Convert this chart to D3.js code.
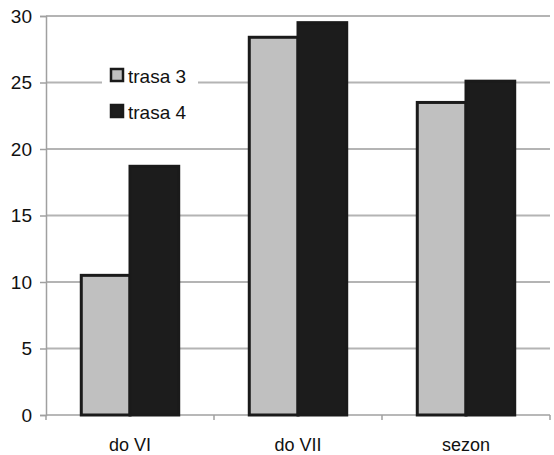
<!DOCTYPE html>
<html><head><meta charset="utf-8">
<script src="https://cdn.jsdelivr.net/npm/d3@7"></script>
<style>body{margin:0;background:#fff}</style>
</head><body>
<svg id="c" width="554" height="455"></svg>
<script>
const categories = ["do VI", "do VII", "sezon"];
const seriesNames = ["trasa 3", "trasa 4"];
const trasa3 = [10.5, 28.4, 23.5];
const trasa4 = [18.7, 29.5, 25.1];
const yTicks = [0, 5, 10, 15, 20, 25, 30];
const colors = ["#c0c0c0", "#1c1c1c"];

const svg = d3.select("#c");
const L = 46, R = 550, T = 16, B = 415;
const x = d3.scaleBand().domain(categories).range([L, R]).paddingInner(0.42).paddingOuter(0.21);
const y = d3.scaleLinear().domain([0, 30]).range([B, T]);
const font = "Liberation Sans, Arial, sans-serif";

// gridlines
svg.append("g").selectAll("line").data(yTicks.filter(d => d > 0)).join("line")
  .attr("x1", L).attr("x2", R).attr("y1", d => y(d)).attr("y2", d => y(d))
  .attr("stroke", "#b4b4b4").attr("stroke-width", 2);

// y axis
const ya = svg.append("g").attr("transform", `translate(${L},0)`)
  .call(d3.axisLeft(y).tickValues(yTicks).tickSize(6).tickPadding(8));
ya.select(".domain").attr("stroke", "#a0a0a0").attr("stroke-width", 1.5);
ya.selectAll(".tick line").attr("stroke", "#a0a0a0").attr("stroke-width", 1.5);
ya.selectAll("text").attr("font-family", font).attr("font-size", 19).attr("fill", "#111");

// x axis
const xa = svg.append("g").attr("transform", `translate(0,${B})`);
xa.append("line").attr("x1", L).attr("x2", R).attr("stroke", "#a0a0a0").attr("stroke-width", 1.5);
const bounds = [0, 1, 2, 3].map(i => L + i * (R - L) / 3);
xa.selectAll(".tk").data(bounds).join("line").attr("class", "tk")
  .attr("x1", d => d).attr("x2", d => d).attr("y1", 0).attr("y2", 5)
  .attr("stroke", "#a0a0a0").attr("stroke-width", 1.5);
xa.selectAll("text").data(categories).join("text")
  .attr("x", d => x(d) + x.bandwidth() / 2).attr("y", 36)
  .attr("text-anchor", "middle").attr("font-family", font).attr("font-size", 18).attr("fill", "#111")
  .text(d => d);

// bars
const sub = d3.scaleBand().domain(seriesNames).range([0, x.bandwidth()]);
const data = categories.map((c, i) => ({c, vals: [trasa3[i], trasa4[i]]}));
const g = svg.append("g");
data.forEach(dd => {
  dd.vals.forEach((v, j) => {
    g.append("rect")
      .attr("x", x(dd.c) + sub(seriesNames[j]))
      .attr("y", y(v))
      .attr("width", sub.bandwidth())
      .attr("height", y(0) - y(v))
      .attr("fill", colors[j])
      .attr("stroke", "#1a1a1a").attr("stroke-width", 3);
  });
});

// legend
const lg = svg.append("g");
lg.append("rect").attr("x", 102).attr("y", 58).attr("width", 96).attr("height", 70).attr("fill", "#fff");
seriesNames.forEach((s, i) => {
  const top = 69 + i * 36;
  lg.append("rect").attr("x", 111).attr("y", top).attr("width", 12).attr("height", 12)
    .attr("fill", colors[i]).attr("stroke", "#1a1a1a").attr("stroke-width", 2.5);
  lg.append("text").attr("x", 128).attr("y", top + 14).attr("font-family", font).attr("font-size", 19)
    .attr("fill", "#111").text(s);
});
</script>
</body></html>
